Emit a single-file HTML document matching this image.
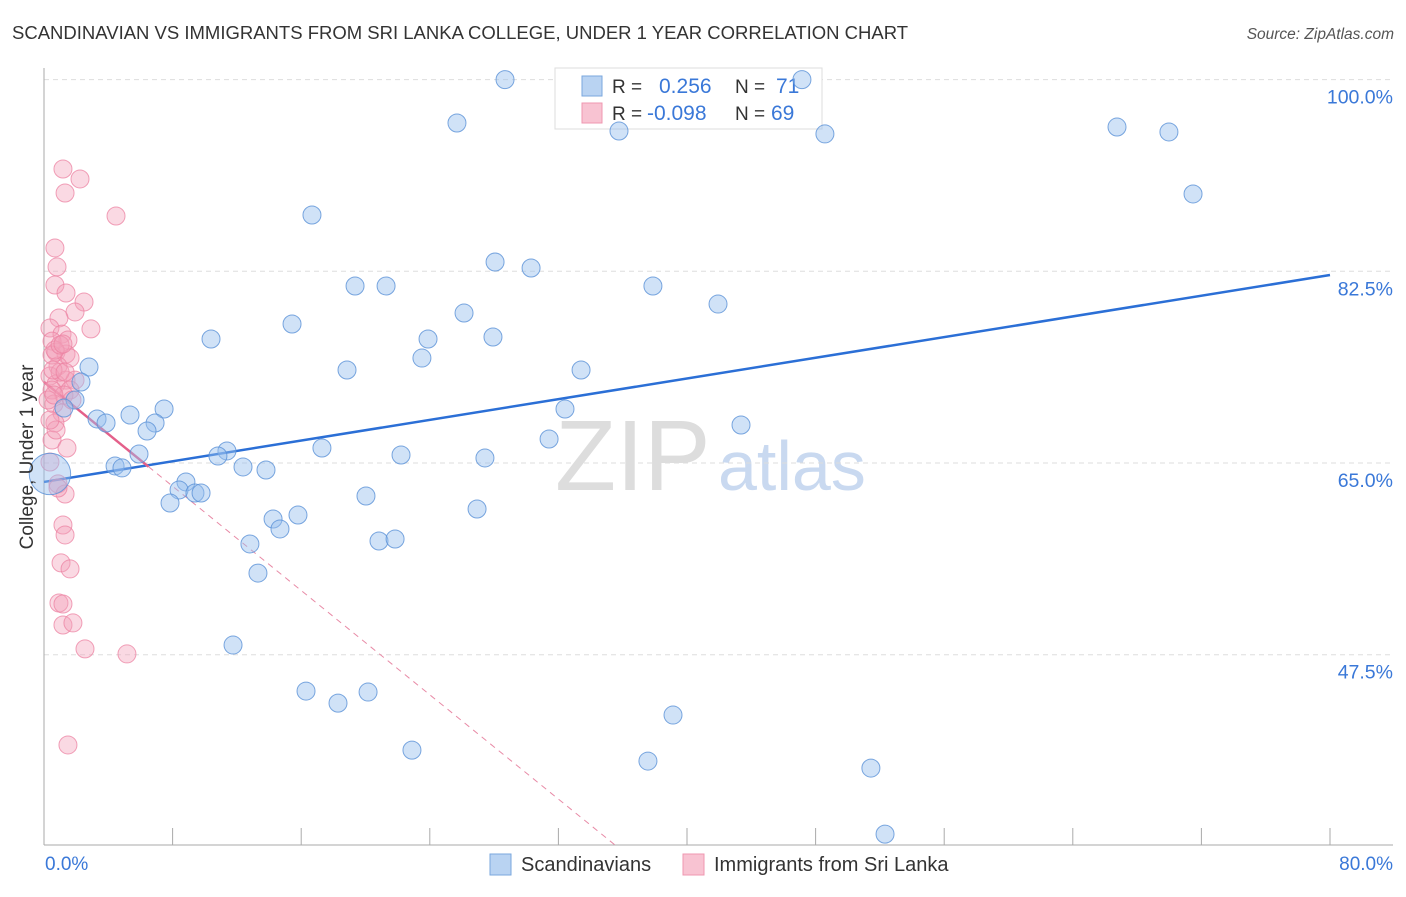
<!DOCTYPE html>
<html><head><meta charset="utf-8"><style>
body{margin:0;background:#fff;font-family:"Liberation Sans",sans-serif;}
svg text{font-family:"Liberation Sans",sans-serif;}
</style></head><body>
<svg id="chart" width="1406" height="892" xmlns="http://www.w3.org/2000/svg">
<text x="12" y="39" font-size="18.5" fill="#333">SCANDINAVIAN VS IMMIGRANTS FROM SRI LANKA COLLEGE, UNDER 1 YEAR CORRELATION CHART</text>
<text x="1394" y="39" font-size="15.5" fill="#555" text-anchor="end" font-style="italic">Source: ZipAtlas.com</text>
<g>
<text x="555" y="490" font-size="100" fill="#ddd" font-family="Liberation Serif,serif">ZIP</text>
<text x="718" y="490" font-size="70" fill="#c9d9f0">atlas</text>
</g>
<g id="grid"></g>
<g id="axes"></g>
<g>
<rect x="555" y="68" width="267" height="61" fill="#fff" stroke="#ddd"/>
<rect x="582" y="76" width="20" height="20" fill="#b9d3f2" stroke="#7aa7de"/>
<rect x="582" y="103" width="20" height="20" fill="#f8c3d2" stroke="#ef97b0"/>
<text x="612" y="93" font-size="19" fill="#333">R =</text>
<text x="659" y="93" font-size="21" fill="#3a78d8">0.256</text>
<text x="735" y="93" font-size="19" fill="#333">N =</text>
<text x="776" y="93" font-size="21" fill="#3a78d8">71</text>
<text x="612" y="120" font-size="19" fill="#333">R =</text>
<text x="647" y="120" font-size="21" fill="#3a78d8">-0.098</text>
<text x="735" y="120" font-size="19" fill="#333">N =</text>
<text x="771" y="120" font-size="21" fill="#3a78d8">69</text>
</g>
<g id="lines"></g>
<g id="pts"></g>
<text transform="translate(33,457) rotate(-90)" font-size="19" fill="#333" text-anchor="middle">College, Under 1 year</text>
<g>
<rect x="490" y="854" width="21" height="21" fill="#b9d3f2" stroke="#7aa7de"/>
<text x="521" y="871" font-size="20" fill="#333">Scandinavians</text>
<rect x="683" y="854" width="21" height="21" fill="#f8c3d2" stroke="#ef97b0"/>
<text x="714" y="871" font-size="20" fill="#333">Immigrants from Sri Lanka</text>
</g>
</svg>
<script>
const yTicks=[100,82.5,65,47.5];
const yTickLabels=["100.0%","82.5%","65.0%","47.5%"];
const xTickLabels=["0.0%","80.0%"];
const blueX=[28.68,47.15,25.69,35.77,48.58,66.75,69.98,71.48,16.67,28.06,30.30,19.35,21.28,37.88,41.93,15.43,26.13,10.39,23.89,27.93,23.51,2.80,18.85,33.41,2.30,1.93,1.24,7.47,32.41,3.30,3.86,5.35,6.91,6.41,43.36,31.42,17.29,11.38,10.82,5.91,22.21,27.43,4.42,4.85,12.38,13.81,8.83,8.40,9.39,9.77,20.03,7.84,26.94,15.80,14.25,14.68,12.81,20.84,21.84,13.31,11.76,16.30,20.16,18.29,39.13,22.89,37.57,51.44,52.32,0.37];
const blueY=[100.0,100.0,96.04,95.31,95.04,95.67,95.22,89.56,87.64,83.35,82.80,81.16,81.16,81.16,79.51,77.69,78.69,76.32,76.32,76.50,74.58,73.76,73.49,73.49,72.39,70.75,70.02,69.93,69.93,69.02,68.65,69.38,68.65,67.92,68.47,67.19,66.37,66.10,65.64,65.82,65.73,65.46,64.73,64.55,64.64,64.36,63.27,62.54,62.26,62.26,61.99,61.35,60.80,60.25,59.89,58.98,57.61,57.88,58.06,54.95,48.38,44.18,44.09,43.08,41.99,38.79,37.79,37.15,31.12,64.00];
const blueSize=[1,1,1,1,1,1,1,1,1,1,1,1,1,1,1,1,1,1,1,1,1,1,1,1,1,1,1,1,1,1,1,1,1,1,1,1,1,1,1,1,1,1,1,1,1,1,1,1,1,1,1,1,1,1,1,1,1,1,1,1,1,1,1,1,1,1,1,1,1,2.3];
const pinkX=[1.18,2.24,1.31,4.48,0.68,0.81,0.68,1.37,2.49,1.93,0.93,2.92,0.37,1.12,1.49,0.50,0.75,1.37,1.62,0.87,0.37,1.37,1.93,0.75,0.50,1.62,1.24,0.62,1.12,0.68,0.50,1.43,0.37,0.87,1.31,1.18,1.31,1.06,1.62,0.93,1.18,1.18,1.80,2.55,5.16,1.49,0.50,1.00,0.25,0.75,0.87,0.68,1.00,0.56,1.18,1.74,0.37,0.62,1.31];
const pinkY=[91.84,90.93,89.65,87.55,84.63,82.90,81.25,80.52,79.70,78.79,78.24,77.24,77.32,76.77,76.23,76.13,75.13,74.95,74.58,73.85,72.94,72.57,72.57,72.21,71.66,71.66,71.21,70.39,69.57,68.65,67.10,66.37,65.09,63.09,62.17,59.34,58.43,55.88,55.33,52.22,52.13,50.21,50.40,48.03,47.57,39.26,74.86,73.30,70.75,68.01,62.72,75.31,75.77,73.49,75.86,70.75,68.92,71.21,73.30];
const blueTrend=[63.27,82.16]; // y at x=0 and x=80
const pinkTrend=[72.4,-1.19]; // intercept, slope
const pinkSolidEnd=6.5;
const xMin=0,xMax=80;
const X=v=>44+(v-xMin)*(1286/(xMax-xMin));
const Y=v=>79.6+(100-v)*(191.7/17.5);
const NS="http://www.w3.org/2000/svg";
function mk(parent,tag,attrs){const e=document.createElementNS(NS,tag);for(const k in attrs)e.setAttribute(k,attrs[k]);document.getElementById(parent).appendChild(e);return e;}
yTicks.forEach((t,i)=>{
 let l=mk('grid','line',{x1:44,x2:1393,y1:Y(t),y2:Y(t),stroke:'#ddd','stroke-dasharray':'5,4'});
 
 
 let tx=mk('grid','text',{x:1393,y:Y(t)+24,'font-size':19.5,fill:'#3a78d8','text-anchor':'end'});
 tx.textContent=yTickLabels[i];
 
 
});
mk('axes','line',{x1:44,x2:44,y1:68,y2:845,stroke:'#aaa'});
mk('axes','line',{x1:44,x2:1393,y1:845,y2:845,stroke:'#aaa'});
for(let i=0;i<=10;i++){let t=mk('axes','line',{x1:X(i*8),x2:X(i*8),y1:828,y2:845,stroke:'#aaa'});
 
 }
let xl0=mk('axes','text',{x:45,y:870,'font-size':19,fill:'#3a78d8'});xl0.textContent=xTickLabels[0];


let xl1=mk('axes','text',{x:1393,y:870,'font-size':19,fill:'#3a78d8','text-anchor':'end'});xl1.textContent=xTickLabels[1];


pinkX.forEach((v,i)=>{let c=mk('pts','circle',{cx:X(v),cy:Y(pinkY[i]),r:9,fill:'rgba(243,160,185,0.4)',stroke:'rgba(236,130,162,0.75)','stroke-width':1});
 
 });
blueX.forEach((v,i)=>{let c=mk('pts','circle',{cx:X(v),cy:Y(blueY[i]),r:9*blueSize[i],fill:'rgba(150,190,238,0.45)',stroke:'rgba(90,145,215,0.8)','stroke-width':1});
 
 });
let bl=mk('lines','line',{x1:X(0),y1:Y(blueTrend[0]),x2:X(80),y2:Y(blueTrend[1]),stroke:'#2b6fd6','stroke-width':2.5});


const yb=30.13, xe=(yb-pinkTrend[0])/pinkTrend[1];
let pd=mk('lines','line',{x1:X(pinkSolidEnd),y1:Y(pinkTrend[0]+pinkTrend[1]*pinkSolidEnd),x2:X(xe),y2:Y(yb),stroke:'#e88aa6','stroke-width':1,'stroke-dasharray':'6,5'});


let ps=mk('lines','line',{x1:X(0),y1:Y(pinkTrend[0]),x2:X(pinkSolidEnd),y2:Y(pinkTrend[0]+pinkTrend[1]*pinkSolidEnd),stroke:'#e4608a','stroke-width':2.5});


</script>
</body></html>
